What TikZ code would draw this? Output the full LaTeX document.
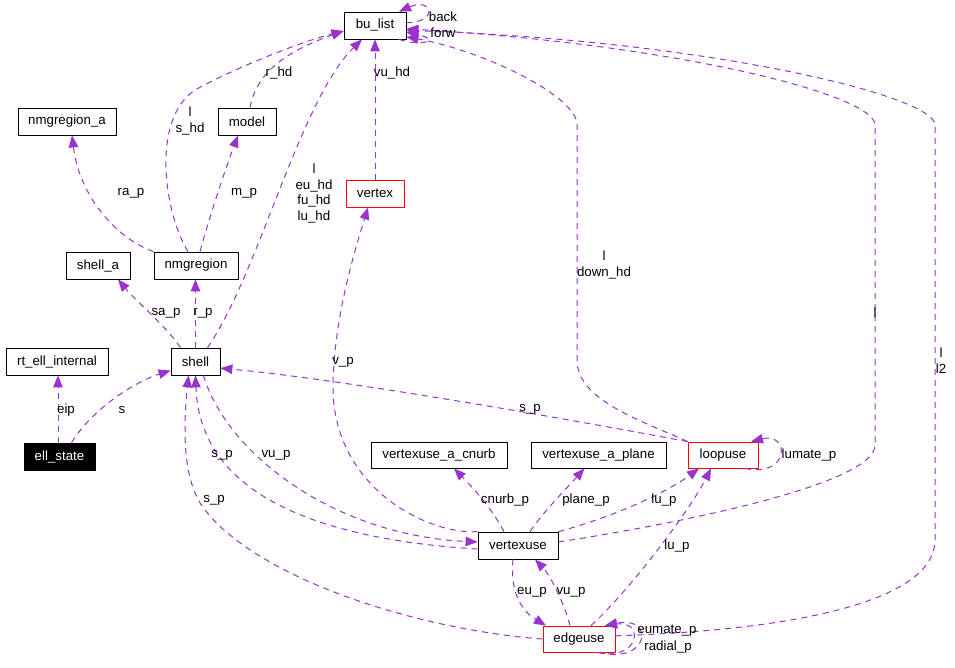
\documentclass[tikz,border=0pt]{standalone}
\usepackage{fontspec}
\setmainfont{Liberation Sans}
\usetikzlibrary{arrows.meta}
\definecolor{usecol}{RGB}{154,50,205}

\begin{document}
\begin{tikzpicture}[x=1pt, y=-1pt,
    every node/.style={font=\fontsize{13.3}{15.7}\selectfont},
    cls/.style={draw, line width=0.8pt, minimum height=27pt, inner sep=0pt},
    redcls/.style={cls, draw=red},
    curcls/.style={cls, fill=black, text=white},
    rel/.style={usecol, line width=1pt, dash pattern=on 6pt off 5pt,
        -{Triangle[length=12pt,width=9.5pt]}},
    lbl/.style={inner sep=0pt, align=center}]
    \useasboundingbox (0,0) rectangle (955,667);

    \node[cls, minimum width=62pt] (bulist) at (375,25.5) {bu\_list};
    \node[cls, minimum width=98pt] (nmgregiona) at (67,121.5) {nmgregion\_a};
    \node[cls, minimum width=58pt] (model) at (247,121.5) {model};
    \node[redcls, minimum width=58pt] (vertex) at (375,193.5) {vertex};
    \node[cls, minimum width=64pt] (shella) at (98,265.5) {shell\_a};
    \node[cls, minimum width=84pt] (nmgregion) at (196,265.5) {nmgregion};
    \node[cls, minimum width=102pt] (rtell) at (57,361.5) {rt\_ell\_internal};
    \node[cls, minimum width=49pt] (shell) at (195.5,361.5) {shell};
    \node[curcls, minimum width=71pt] (ellstate) at (59.5,456.5) {ell\_state};
    \node[cls, minimum width=136pt, minimum height=26pt] (vcnurb) at (439,455) {vertexuse\_a\_cnurb};
    \node[cls, minimum width=135pt, minimum height=26pt] (vplane) at (598.5,455) {vertexuse\_a\_plane};
    \node[redcls, minimum width=70pt, minimum height=26pt] (loopuse) at (723,455) {loopuse};
    \node[cls, minimum width=80pt] (vertexuse) at (518,545.5) {vertexuse};
    \node[redcls, minimum width=72pt, minimum height=26pt] (edgeuse) at (579,639) {edgeuse};

    % ell_state
    \draw[rel] ([xshift=-1.5pt]ellstate.north) -- ([xshift=1pt]rtell.south);
    \draw[rel] ([xshift=12pt]ellstate.north) .. controls (95,405) and (140,380) .. (shell.200);

    % shell and nmgregion
    \draw[rel] ([xshift=-15pt]shell.north) .. controls (165,325) and (135,300) .. ([xshift=20pt]shella.south);
    \draw[rel] (shell.north) -- ([xshift=-0.5pt]nmgregion.south);
    \draw[rel] (nmgregion.north west) .. controls (120,240) and (80,200) .. ([xshift=5pt]nmgregiona.south);
    \draw[rel] ([xshift=4pt]nmgregion.north) .. controls (210,215) and (225,170) .. ([xshift=-9pt]model.south);
    \draw[rel] ([xshift=-8pt]nmgregion.north) .. controls (165,215) and (150,120) .. (195,90)
        .. controls (235,68) and (300,42) .. (bulist.190);
    \draw[rel] ([xshift=3pt]model.north) .. controls (255,80) and (275,55) .. (bulist.190);
    \draw[rel] ([xshift=12pt]shell.north) .. controls (258,275) and (300,100) .. ([xshift=-13pt]bulist.south);
    \draw[rel] (vertex) -- (bulist);

    % bu_list loops
    \draw[rel] (bulist.5) .. controls (440,22) and (432,-3) .. ([xshift=24pt]bulist.north);
    \draw[rel] ([xshift=24pt]bulist.south) .. controls (422,47) and (442,40) .. (bulist.-12);

    % long edges to bu_list
    \draw[rel] (loopuse.north west) .. controls (640,420) and (577,400) .. (577,360) -- (577,125)
        .. controls (577,95) and (480,50) .. (bulist.-20);
    \draw[rel] (vertexuse.5) .. controls (700,520) and (875,482) .. (875,445) -- (875,125)
        .. controls (875,95) and (680,45) .. (bulist.-6);
    \draw[rel] (edgeuse.5) .. controls (800,630) and (935,600) .. (935,540) -- (935,125)
        .. controls (935,95) and (700,40) .. (bulist.-9);

    % vertexuse
    \draw[rel] (vertexuse.north west) .. controls (430,535) and (335,490) .. (333,390)
        .. controls (333,320) and (355,250) .. ([xshift=-7pt]vertex.south);
    \draw[rel] (loopuse.north west) .. controls (600,425) and (350,380) .. (shell.-15);
    \draw[rel] (vertexuse.185) .. controls (330,540) and (200,500) .. (shell.south);
    \draw[rel] (shell.-60) .. controls (225,450) and (330,535) .. (vertexuse.175);
    \draw[rel] (edgeuse.west) .. controls (420,630) and (260,580) .. (205,510)
        .. controls (185,485) and (182,440) .. ([xshift=-7pt]shell.south);
    \draw[rel] ([xshift=-14pt]vertexuse.north) .. controls (490,505) and (470,485) .. ([xshift=15pt]vcnurb.south);
    \draw[rel] ([xshift=12pt]vertexuse.north) .. controls (545,510) and (565,490) .. ([xshift=-14pt]vplane.south);
    \draw[rel] (vertexuse.north east) .. controls (620,515) and (670,490) .. ([xshift=-24pt]loopuse.south);
    \draw[rel] ([xshift=12pt]edgeuse.north) .. controls (630,590) and (690,510) .. ([xshift=-12pt]loopuse.south);
    \draw[rel] ([xshift=22pt]loopuse.south) .. controls (790,478) and (790,432) .. ([xshift=28pt]loopuse.north);

    % edgeuse
    \draw[rel] ([xshift=-5pt]vertexuse.south) .. controls (510,590) and (520,610) .. ([xshift=-33pt]edgeuse.north);
    \draw[rel] ([xshift=-9pt]edgeuse.north) .. controls (565,605) and (550,575) .. ([xshift=17pt]vertexuse.south);
    \draw[rel] ([xshift=20pt]edgeuse.south) .. controls (650,665) and (655,615) .. ([xshift=26pt]edgeuse.north);
    \draw[rel] ([xshift=18pt]edgeuse.south) .. controls (640,662) and (645,620) .. ([xshift=26pt]edgeuse.north);

    % labels
    \node[lbl] (l-back) at (443,17) {back};
    \node[lbl] (l-forw) at (443,33) {forw};
    \node[lbl] (l-vuhd) at (392,73) {vu\_hd};
    \node[lbl] (l-rhd) at (279,73) {r\_hd};
    \node[lbl] (l-shd) at (190,121) {l\\s\_hd};
    \node[lbl] (l-rap) at (131,193) {ra\_p};
    \node[lbl] (l-mp) at (244,193) {m\_p};
    \node[lbl] (l-euhd) at (314,193.5) {l\\eu\_hd\\fu\_hd\\lu\_hd};
    \node[lbl] (l-sap) at (166,313) {sa\_p};
    \node[lbl] (l-rp) at (203,313) {r\_p};
    \node[lbl] (l-eip) at (66,410) {eip};
    \node[lbl] (l-s) at (122,410) {s};
    \node[lbl] (l-vp) at (343,362) {v\_p};
    \node[lbl] (l-sp1) at (530,409) {s\_p};
    \node[lbl] (l-downhd) at (604,265) {l\\down\_hd};
    \node[lbl] (l-l) at (875,313) {l};
    \node[lbl] (l-l2) at (941,361) {l\\l2};
    \node[lbl] (l-lumate) at (809,455) {lumate\_p};
    \node[lbl] (l-cnurb) at (505,500) {cnurb\_p};
    \node[lbl] (l-plane) at (586,500) {plane\_p};
    \node[lbl] (l-lup1) at (664,500) {lu\_p};
    \node[lbl] (l-lup2) at (677,546) {lu\_p};
    \node[lbl] (l-eup) at (532,592) {eu\_p};
    \node[lbl] (l-vup2) at (571,592) {vu\_p};
    \node[lbl] (l-eumate) at (667,631) {eumate\_p};
    \node[lbl] (l-radial) at (668,647) {radial\_p};
    \node[lbl] (l-sp2) at (222,455) {s\_p};
    \node[lbl] (l-vup1) at (276,455) {vu\_p};
    \node[lbl] (l-sp3) at (214,500) {s\_p};
\end{tikzpicture}
\end{document}
